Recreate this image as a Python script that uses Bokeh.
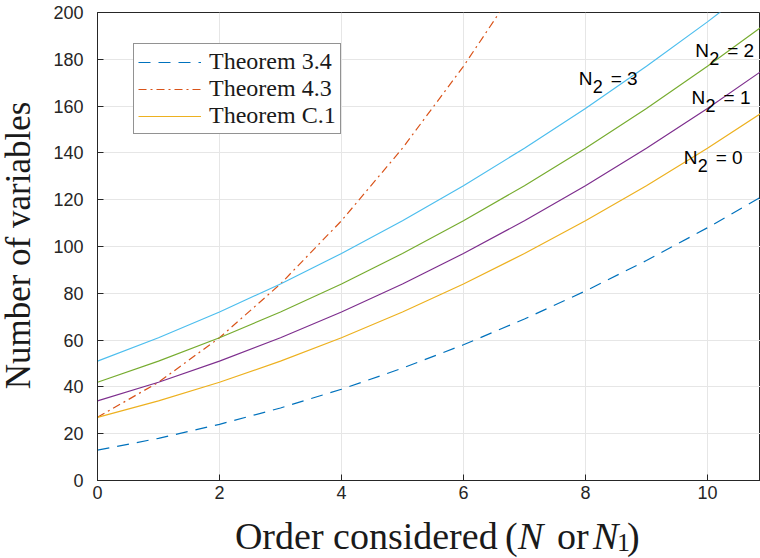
import math
from bokeh.plotting import figure
from bokeh.layouts import row, column
from bokeh.models import Range1d, Legend, LegendItem, Label, FixedTicker
from bokeh.embed import file_html
from bokeh.resources import INLINE

# ---- data ----
order = [0, 1, 2, 3, 4, 5, 6, 7, 8, 9, 10, 11]
thm34 = [13, 18, 24, 31, 39, 48, 58, 69, 81, 94, 108, 123]
order43 = [0, 1, 2, 3, 4, 5, 6, 7]
thm43 = [27, 42, 61, 84, 111, 142, 177, 216]
c1_n0 = [27, 34, 42, 51, 61, 72, 84, 97, 111, 126, 142, 159]
c1_n1 = [34, 42, 51, 61, 72, 84, 97, 111, 126, 142, 159, 177]
c1_n2 = [42, 51, 61, 72, 84, 97, 111, 126, 142, 159, 177, 196]
c1_n3 = [51, 61, 72, 84, 97, 111, 126, 142, 159, 177, 196, 216]
x_ticks = [0, 2, 4, 6, 8, 10]
y_ticks = [0, 20, 40, 60, 80, 100, 120, 140, 160, 180, 200]
legend_labels = ["Theorem 3.4", "Theorem 4.3", "Theorem C.1"]
n2_labels = ["0", "1", "2", "3"]
y_title = "Number of variables"

AX = "#262626"
TXT = "#1a1a1a"


def blank(w, h):
    f = figure(width=w, height=h, x_range=Range1d(0, w), y_range=Range1d(0, h), title=None,
               x_axis_location=None, y_axis_location=None, output_backend="svg",
               toolbar_location=None, min_border=0)
    f.outline_line_color = None
    f.grid.visible = False
    f.background_fill_color = "white"
    f.border_fill_color = "white"
    return f


# ---- main plot ----
p = figure(width=714, height=508, x_range=Range1d(0, 10.87), y_range=Range1d(0, 200), title=None,
           output_backend="svg", toolbar_location=None,
           min_border_left=51, min_border_right=0, min_border_top=12, min_border_bottom=28)
p.background_fill_color = "white"
p.border_fill_color = "white"
p.outline_line_color = AX
p.outline_line_width = 1

p.xaxis.ticker = FixedTicker(ticks=x_ticks)
p.yaxis.ticker = FixedTicker(ticks=y_ticks)
for ax in (p.xaxis[0], p.yaxis[0]):
    ax.axis_line_color = AX
    ax.major_tick_line_color = AX
    ax.major_tick_in = 6
    ax.major_tick_out = 0
    ax.minor_tick_line_color = None
    ax.major_label_text_font = "Liberation Sans"
    ax.major_label_text_font_size = "18px"
    ax.major_label_text_color = AX
p.xaxis.major_label_standoff = 5
p.yaxis.major_label_standoff = 14

p.xgrid.grid_line_color = "#e6e6e6"
p.ygrid.grid_line_color = "#e6e6e6"

r34 = p.line(order, thm34, line_color="#0072BD", line_width=1.2, line_dash="12 8")
r43 = p.line(order43, thm43, line_color="#D95319", line_width=1.2, line_dash="8 4 2 4")
rc0 = p.line(order, c1_n0, line_color="#EDB120", line_width=1.2)
p.line(order, c1_n1, line_color="#7E2F8E", line_width=1.2)
p.line(order, c1_n2, line_color="#77AC30", line_width=1.2)
p.line(order, c1_n3, line_color="#4DBEEE", line_width=1.2)

legend = Legend(items=[LegendItem(label=legend_labels[0], renderers=[r34]),
                       LegendItem(label=legend_labels[1], renderers=[r43]),
                       LegendItem(label=legend_labels[2], renderers=[rc0])],
                location=(36, 346))
legend.border_line_color = AX
legend.border_line_width = 1
legend.background_fill_color = "white"
legend.background_fill_alpha = 1
legend.label_text_font = "Liberation Serif"
legend.label_text_font_size = "24px"
legend.label_text_color = TXT
legend.glyph_width = 63
legend.glyph_height = 26
legend.label_height = 26
legend.label_standoff = 8
legend.padding = 4
legend.spacing = 0
legend.margin = 0
p.add_layout(legend, "center")

# N_2 annotations
n2_pos = [(9.61, 138.0), (9.74, 163.7), (9.80, 183.9), (7.89, 171.8)]
for lab, (lx, ly) in zip(n2_labels, n2_pos):
    p.add_layout(Label(x=lx, y=ly, text="N", text_font="Liberation Sans", text_font_size="19px",
                       text_color="black", text_baseline="alphabetic"))
    p.add_layout(Label(x=lx, y=ly, x_offset=14, y_offset=-8, text="2", text_font="Liberation Sans",
                       text_font_size="18px", text_color="black", text_baseline="alphabetic"))
    p.add_layout(Label(x=lx, y=ly, x_offset=32, text="= " + lab, text_font="Liberation Sans",
                       text_font_size="19px", text_color="black", text_baseline="alphabetic"))

# ---- left strip: y title ----
pl = blank(46, 558)
pl.add_layout(Label(x=18, y=313, angle=math.pi / 2, text=y_title, text_font="Liberation Serif",
                    text_font_size="35px", text_color=TXT, text_align="center",
                    text_baseline="alphabetic"))

# ---- bottom strip: x title with italic pieces ----
pb = blank(714, 50)
xl_x, xl_y = 148, 23
pieces = [("Order considered", 0, 0, "normal", "38px"),
          ("(", 270, 0, "normal", "38px"),
          ("N", 283, 0, "italic", "38px"),
          ("or", 322, 0, "normal", "38px"),
          ("N", 358, 0, "italic", "38px"),
          ("1", 382, -7, "normal", "26px"),
          (")", 392, 0, "normal", "38px")]
for t, dx, dy, st, fs in pieces:
    pb.add_layout(Label(x=xl_x, y=xl_y, x_offset=dx, y_offset=dy, text=t, text_font="Liberation Serif",
                        text_font_size=fs, text_font_style=st, text_color=TXT,
                        text_baseline="alphabetic"))

layout = row(pl, column(p, pb, spacing=0), spacing=0)
open("out.html", "w").write(file_html(layout, INLINE))
